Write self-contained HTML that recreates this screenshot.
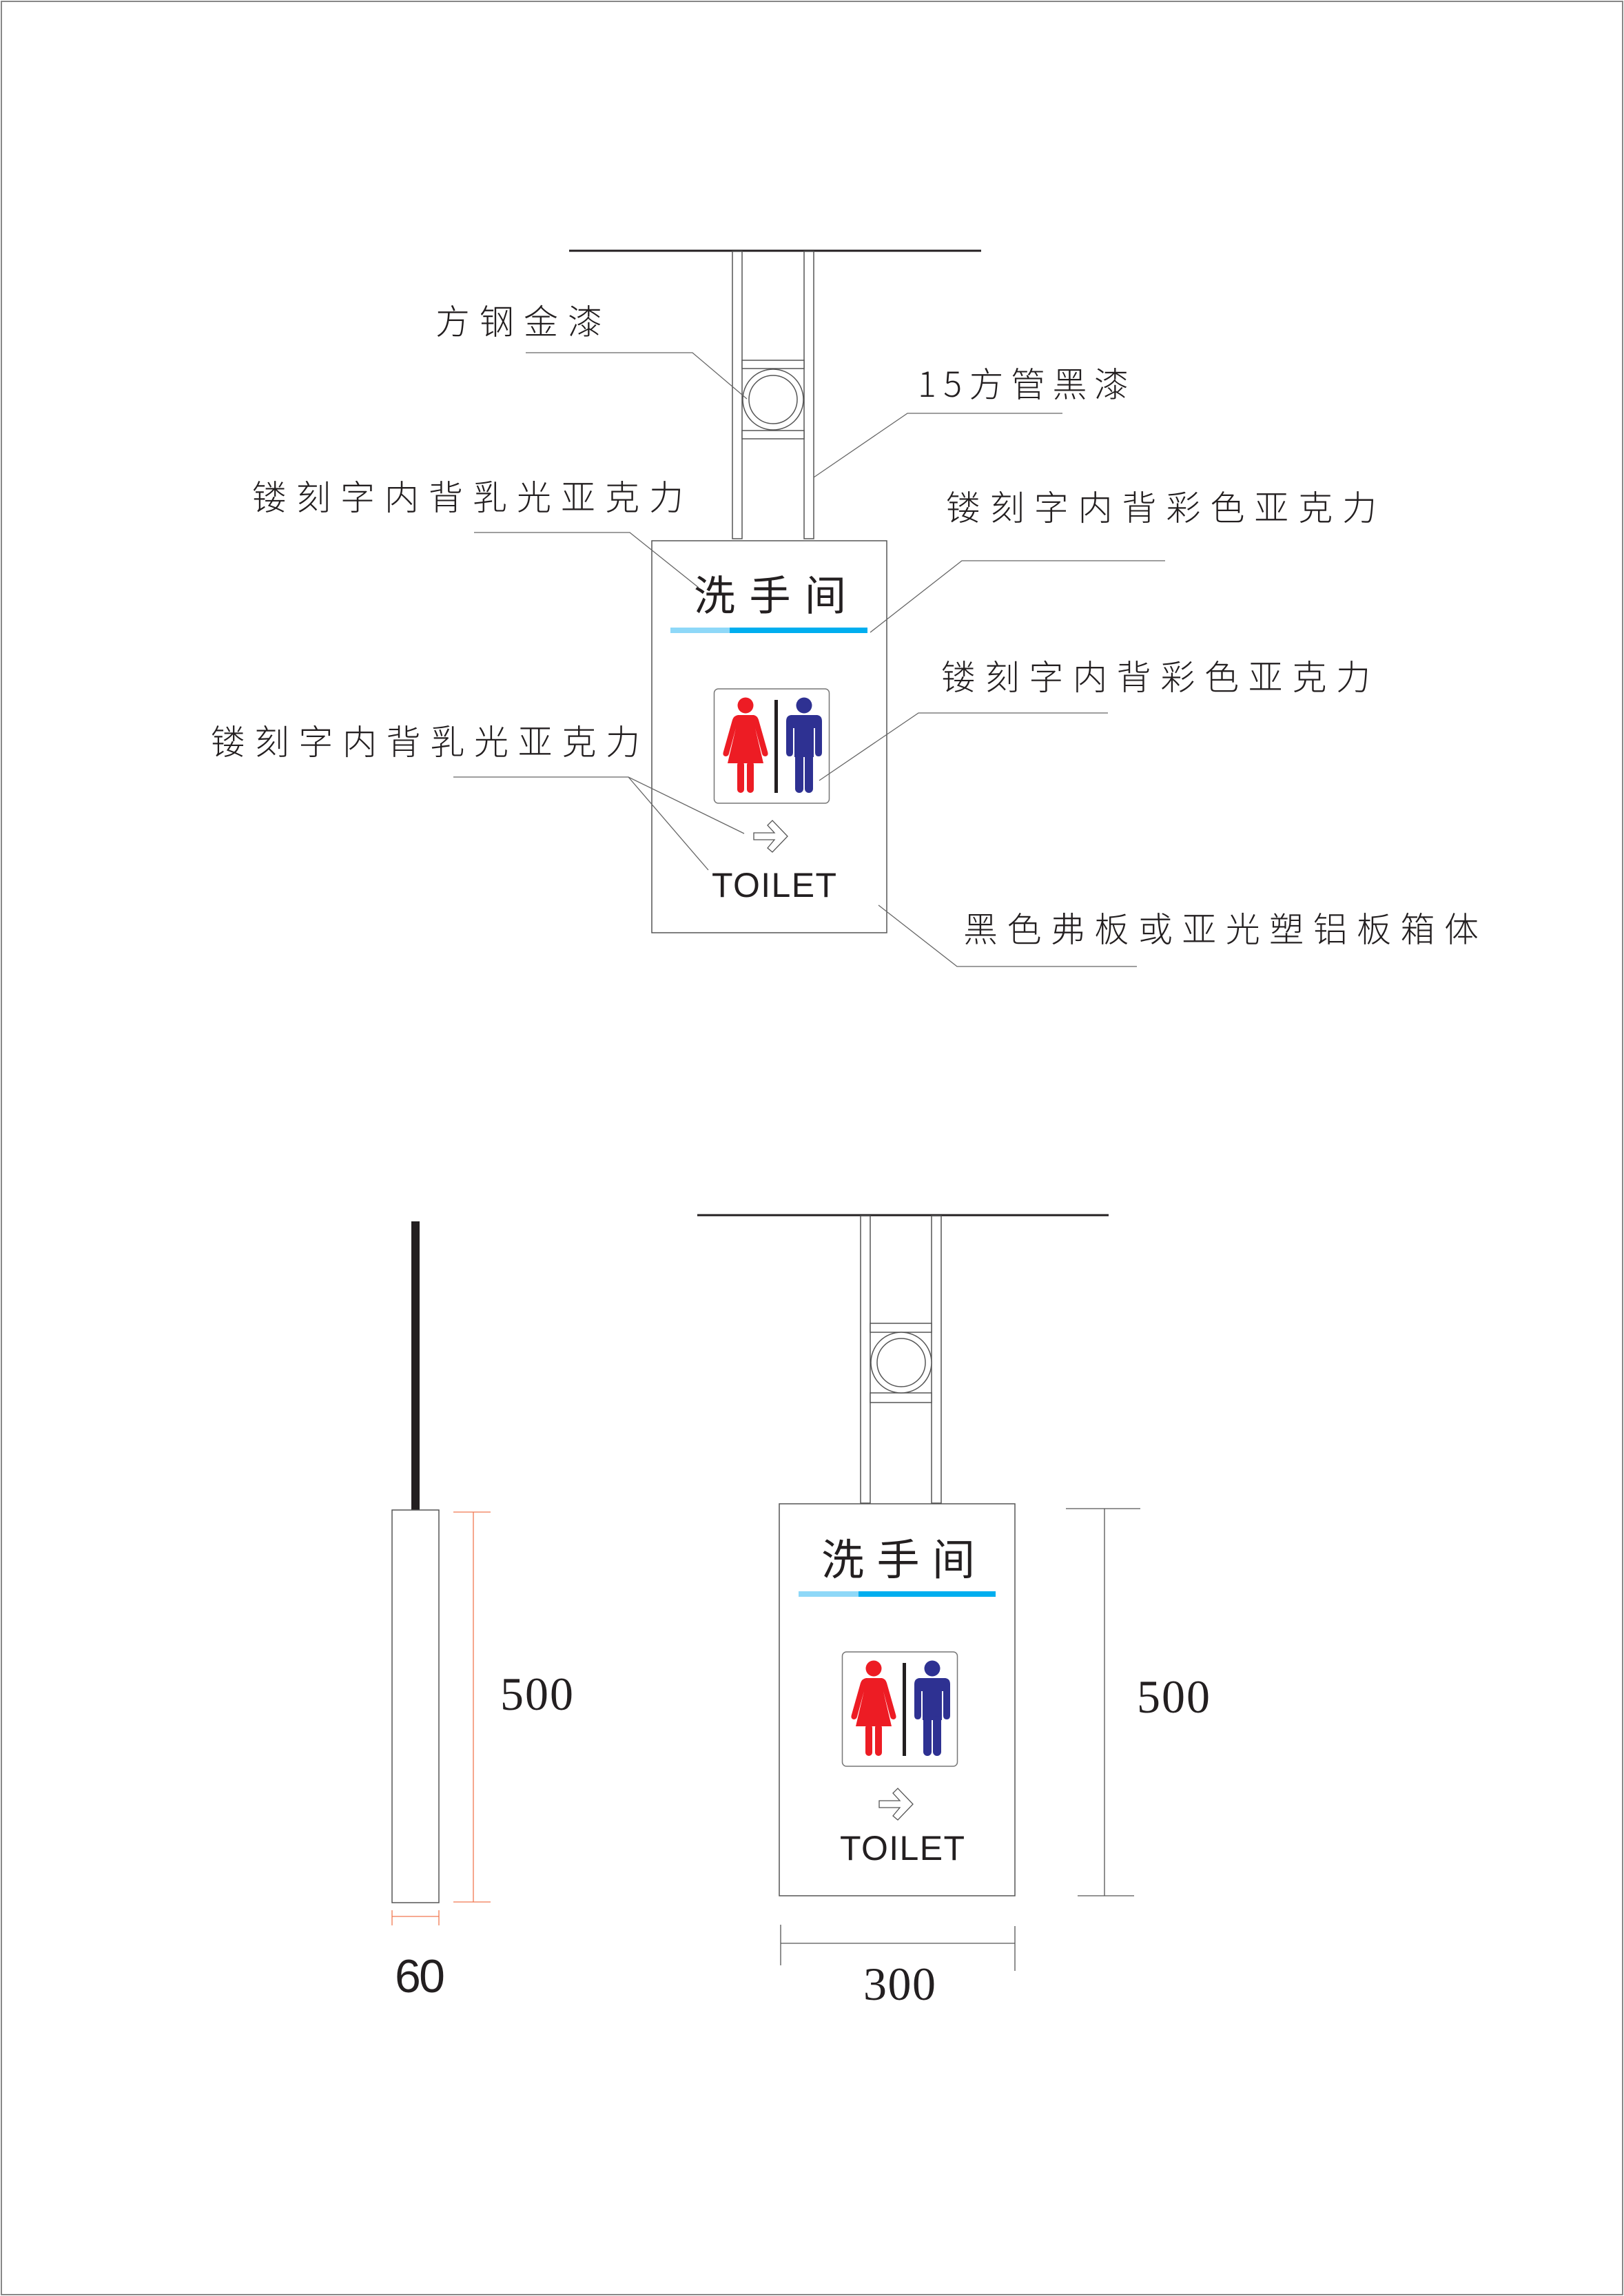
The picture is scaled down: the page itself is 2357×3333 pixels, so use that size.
<!DOCTYPE html>
<html><head><meta charset="utf-8"><style>
html,body{margin:0;padding:0;background:#fff}
svg{display:block}
text{font-family:"Liberation Sans","Noto Sans CJK SC",sans-serif;fill:#231f20}
.cj{font-family:"Noto Sans CJK SC","Liberation Sans",sans-serif;font-weight:300}
.sf{font-family:"Liberation Serif",serif}
</style></head><body>
<svg width="2357" height="3333" viewBox="0 0 2357 3333" xmlns="http://www.w3.org/2000/svg">
<defs>
<g id="icon">
  <rect x="0.5" y="5" width="167" height="166" rx="6" fill="#fff" stroke="#777" stroke-width="1.5"/>
  <circle cx="46" cy="29" r="11.5" fill="#ed1c24"/>
  <path d="M35,43 L58,43 Q63,44 65,50 L78,96 Q80,102 75,103 Q71,103 70,99 L60,62 L72,113 L20,113 L32,62 L22,99 Q21,103 17,103 Q12,102 14,96 L27,50 Q29,44 35,43 Z" fill="#ed1c24"/>
  <rect x="34" y="110" width="10" height="46" rx="5" fill="#ed1c24"/>
  <rect x="48" y="110" width="10" height="46" rx="5" fill="#ed1c24"/>
  <rect x="88" y="21" width="5" height="135" fill="#231f20"/>
  <circle cx="131" cy="29" r="11.5" fill="#2e3192"/>
  <path d="M112,43 L150,43 Q157,44 157,52 L157,97 Q157,103 152,103 Q147,103 147,97 L147,62 L145,62 L145,104 L117,104 L117,62 L115,62 L115,97 Q115,103 110,103 Q105,103 105,97 L105,52 Q105,44 112,43 Z" fill="#2e3192"/>
  <rect x="118" y="98" width="12" height="58" rx="6" fill="#2e3192"/>
  <rect x="132" y="98" width="12" height="58" rx="6" fill="#2e3192"/>
</g>
<path id="arrow" d="M4,24 L34,24 L24,13 L31,6 L53,29 L31,52 L24,46 L34,34 L4,34 Z" fill="#fff" stroke="#555" stroke-width="1.3"/>
</defs>

<rect x="2" y="2" width="2353" height="3329" fill="none" stroke="#888" stroke-width="2"/>

<!-- TOP DRAWING -->
<line x1="826" y1="364" x2="1424" y2="364" stroke="#231f20" stroke-width="3"/>
<g fill="#fff" stroke="#555" stroke-width="1.5">
<rect x="1063" y="365" width="14" height="417"/>
<rect x="1167" y="365" width="14" height="417"/>
<rect x="1077" y="523" width="90" height="12"/>
<rect x="1077" y="625" width="90" height="12"/>
<circle cx="1122" cy="580" r="44"/>
<circle cx="1122" cy="580" r="35"/>
<rect x="946" y="785" width="341" height="569"/>
</g>
<text class="cj" x="1007" y="886" font-size="60" textLength="221" lengthAdjust="spacing" style="font-weight:400">洗手间</text>
<rect x="973" y="911" width="87" height="8" fill="#8ed8f8"/>
<rect x="1059" y="911" width="200" height="8" fill="#00aeef"/>
<use href="#icon" x="1036" y="995"/>
<use href="#arrow" x="1090" y="1185"/>
<text x="1033" y="1302" font-size="50" textLength="181" lengthAdjust="spacing">TOILET</text>

<!-- leaders -->
<g fill="none" stroke="#666" stroke-width="1.3">
<polyline points="763,512 1005,512 1084,579"/>
<polyline points="1542,600 1317,600 1181,693"/>
<polyline points="688,773 914,773 1014,853"/>
<polyline points="1691,814 1396,814 1263,918"/>
<polyline points="1608,1035 1333,1035 1189,1133"/>
<polyline points="658,1128 912,1128 1080,1210"/>
<polyline points="912,1128 1028,1263"/>
<polyline points="1275,1314 1389,1403 1650,1403"/>
</g>
<g class="cj" font-size="50">
<text class="cj" x="632" y="485" textLength="242" lengthAdjust="spacing">方钢金漆</text>
<text class="cj" x="1332" y="576" textLength="306" lengthAdjust="spacing">15方管黑漆</text>
<text class="cj" x="366" y="740" textLength="626" lengthAdjust="spacing">镂刻字内背乳光亚克力</text>
<text class="cj" x="1373" y="755" textLength="625" lengthAdjust="spacing">镂刻字内背彩色亚克力</text>
<text class="cj" x="1366" y="1001" textLength="623" lengthAdjust="spacing">镂刻字内背彩色亚克力</text>
<text class="cj" x="306" y="1095" textLength="623" lengthAdjust="spacing">镂刻字内背乳光亚克力</text>
<text class="cj" x="1398" y="1367" textLength="748" lengthAdjust="spacing">黑色弗板或亚光塑铝板箱体</text>
</g>

<!-- BOTTOM DRAWING -->
<line x1="1012" y1="1764" x2="1609" y2="1764" stroke="#231f20" stroke-width="3"/>
<g fill="#fff" stroke="#555" stroke-width="1.5">
<rect x="1249" y="1765" width="14" height="417"/>
<rect x="1352" y="1765" width="14" height="417"/>
<rect x="1263" y="1921" width="89" height="13"/>
<rect x="1263" y="2022" width="89" height="14"/>
<circle cx="1308" cy="1978" r="44"/>
<circle cx="1308" cy="1978" r="35"/>
<rect x="1131" y="2183" width="342" height="569"/>
</g>
<text class="cj" x="1192" y="2286" font-size="62" textLength="223" lengthAdjust="spacing" style="font-weight:400">洗手间</text>
<rect x="1159" y="2310" width="88" height="8" fill="#8ed8f8"/>
<rect x="1246" y="2310" width="199" height="8" fill="#00aeef"/>
<use href="#icon" x="1222" y="2393"/>
<use href="#arrow" x="1272" y="2590"/>
<text x="1219" y="2700" font-size="50" textLength="181" lengthAdjust="spacing">TOILET</text>

<!-- dims right -->
<g stroke="#555" stroke-width="1.3" fill="none">
<line x1="1603" y1="2190" x2="1603" y2="2752"/>
<line x1="1547" y1="2190" x2="1655" y2="2190"/>
<line x1="1564" y1="2752" x2="1646" y2="2752"/>
<line x1="1133" y1="2821" x2="1473" y2="2821"/>
<line x1="1133" y1="2794" x2="1133" y2="2853"/>
<line x1="1473" y1="2796" x2="1473" y2="2861"/>
</g>
<text class="sf" x="1650" y="2486" font-size="68" textLength="106" lengthAdjust="spacing">500</text>
<text class="sf" x="1253" y="2903" font-size="68" textLength="105" lengthAdjust="spacing">300</text>

<!-- side view -->
<rect x="597" y="1773" width="12" height="419" fill="#231f20"/>
<rect x="569" y="2192" width="68" height="570" fill="#fff" stroke="#555" stroke-width="1.5"/>
<g stroke="#f07850" stroke-width="1.3" fill="none">
<line x1="687" y1="2195" x2="687" y2="2761"/>
<line x1="658" y1="2195" x2="712" y2="2195"/>
<line x1="658" y1="2761" x2="712" y2="2761"/>
<line x1="569" y1="2782" x2="637" y2="2782"/>
<line x1="569" y1="2773" x2="569" y2="2795"/>
<line x1="637" y1="2773" x2="637" y2="2795"/>
</g>
<text class="sf" x="726" y="2482" font-size="68" textLength="106" lengthAdjust="spacing">500</text>
<text x="573" y="2892" font-size="68" textLength="73" lengthAdjust="spacing">60</text>
</svg>
</body></html>
